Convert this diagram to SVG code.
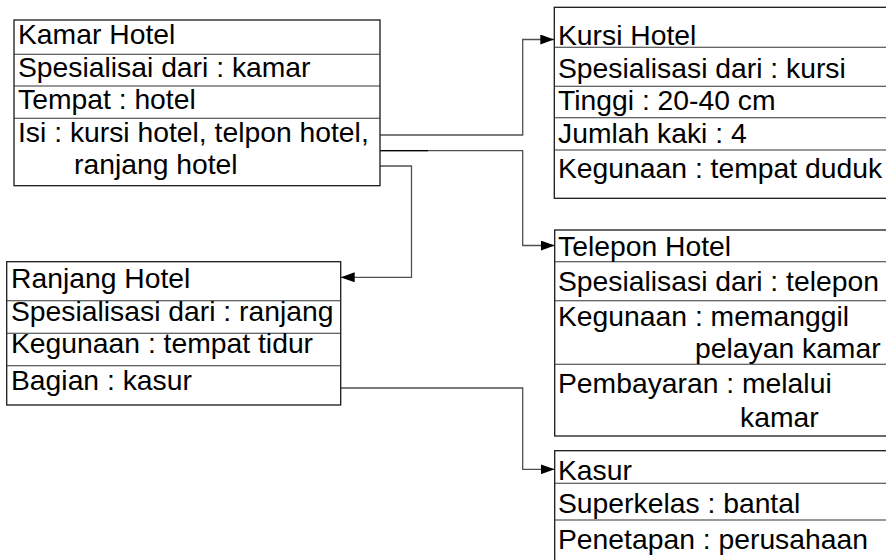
<svg xmlns="http://www.w3.org/2000/svg" width="886" height="560" viewBox="0 0 886 560">
  <style>
    .box { fill: #ffffff; stroke: #1a1a1a; stroke-width: 1.3; }
    .div { stroke: #333333; stroke-width: 1.1; fill: none; }
    .lbl { font-family: "Liberation Sans", Arial, sans-serif; font-size: 28.3px; fill: #000000; }
    .conn { fill: none; stroke: #505050; stroke-width: 1.3; }
  </style>
  <defs>
    <marker id="arrow" markerUnits="userSpaceOnUse" markerWidth="14" markerHeight="10" refX="14" refY="5" orient="auto">
      <path d="M0,0 L14,5 L0,10 Z" fill="#000000"/>
    </marker>
  </defs>
  <rect width="886" height="560" fill="#ffffff"/>

  <!-- connectors -->
  <g id="connectors">
    <path class="conn" d="M380,135 H522.7 V39.5 H554.3" marker-end="url(#arrow)"/>
    <path class="conn" d="M380,150.7 H522.7 V245.5 H554.7" marker-end="url(#arrow)"/>
    <line x1="380" y1="150.7" x2="428" y2="150.7" stroke="#000000" stroke-width="1.3"/>
    <path class="conn" d="M380,166 H411.5 V277.3 H340.7" marker-end="url(#arrow)"/>
    <path class="conn" d="M340.7,388 H522.7 V469.3 H554.7" marker-end="url(#arrow)"/>
  </g>

  <!-- Kamar Hotel -->
  <g id="kamar-hotel">
    <rect class="box" x="14" y="20" width="366" height="165.7"/>
    <line class="div" x1="14" y1="54.3" x2="380" y2="54.3"/>
    <line class="div" x1="14" y1="86" x2="380" y2="86"/>
    <line class="div" x1="14" y1="118.3" x2="380" y2="118.3"/>
    <text class="lbl" x="18" y="44">Kamar Hotel</text>
    <text class="lbl" x="18" y="77">Spesialisai dari : kamar</text>
    <text class="lbl" x="18" y="109">Tempat : hotel</text>
    <text class="lbl" x="18" y="141.5">Isi : kursi hotel, telpon hotel,</text>
    <text class="lbl" x="74" y="174">ranjang hotel</text>
  </g>

  <!-- Kursi Hotel -->
  <g id="kursi-hotel">
    <rect class="box" x="554.3" y="7.3" width="340" height="191"/>
    <line class="div" x1="554.3" y1="47.3" x2="886" y2="47.3"/>
    <line class="div" x1="554.3" y1="86.3" x2="886" y2="86.3"/>
    <line class="div" x1="554.3" y1="117.7" x2="886" y2="117.7"/>
    <line class="div" x1="554.3" y1="150" x2="886" y2="150"/>
    <text class="lbl" x="558" y="45">Kursi Hotel</text>
    <text class="lbl" x="558" y="77.5">Spesialisasi dari : kursi</text>
    <text class="lbl" x="558" y="110">Tinggi : 20-40 cm</text>
    <text class="lbl" x="558" y="143">Jumlah kaki : 4</text>
    <text class="lbl" x="558" y="178">Kegunaan : tempat duduk</text>
  </g>

  <!-- Telepon Hotel -->
  <g id="telepon-hotel">
    <rect class="box" x="554.7" y="230" width="340" height="206"/>
    <line class="div" x1="554.7" y1="261.7" x2="886" y2="261.7"/>
    <line class="div" x1="554.7" y1="300.7" x2="886" y2="300.7"/>
    <line class="div" x1="554.7" y1="364.3" x2="886" y2="364.3"/>
    <text class="lbl" x="558" y="256">Telepon Hotel</text>
    <text class="lbl" x="558" y="291">Spesialisasi dari : telepon</text>
    <text class="lbl" x="558" y="326">Kegunaan : memanggil</text>
    <text class="lbl" x="695" y="358">pelayan kamar</text>
    <text class="lbl" x="558" y="393">Pembayaran : melalui</text>
    <text class="lbl" x="740" y="427">kamar</text>
  </g>

  <!-- Ranjang Hotel -->
  <g id="ranjang-hotel">
    <rect class="box" x="6.7" y="261.7" width="334" height="143.3"/>
    <line class="div" x1="6.7" y1="300.7" x2="340.7" y2="300.7"/>
    <line class="div" x1="6.7" y1="333.3" x2="340.7" y2="333.3"/>
    <line class="div" x1="6.7" y1="365.7" x2="340.7" y2="365.7"/>
    <text class="lbl" x="11" y="288">Ranjang Hotel</text>
    <text class="lbl" x="11" y="321">Spesialisasi dari : ranjang</text>
    <text class="lbl" x="11" y="353">Kegunaan : tempat tidur</text>
    <text class="lbl" x="11" y="390">Bagian : kasur</text>
  </g>

  <!-- Kasur -->
  <g id="kasur">
    <rect class="box" x="554.7" y="450.7" width="340" height="120"/>
    <line class="div" x1="554.7" y1="483.3" x2="886" y2="483.3"/>
    <line class="div" x1="554.7" y1="520" x2="886" y2="520"/>
    <text class="lbl" x="558" y="480">Kasur</text>
    <text class="lbl" x="558" y="513">Superkelas : bantal</text>
    <text class="lbl" x="558" y="549">Penetapan : perusahaan</text>
  </g>
</svg>
